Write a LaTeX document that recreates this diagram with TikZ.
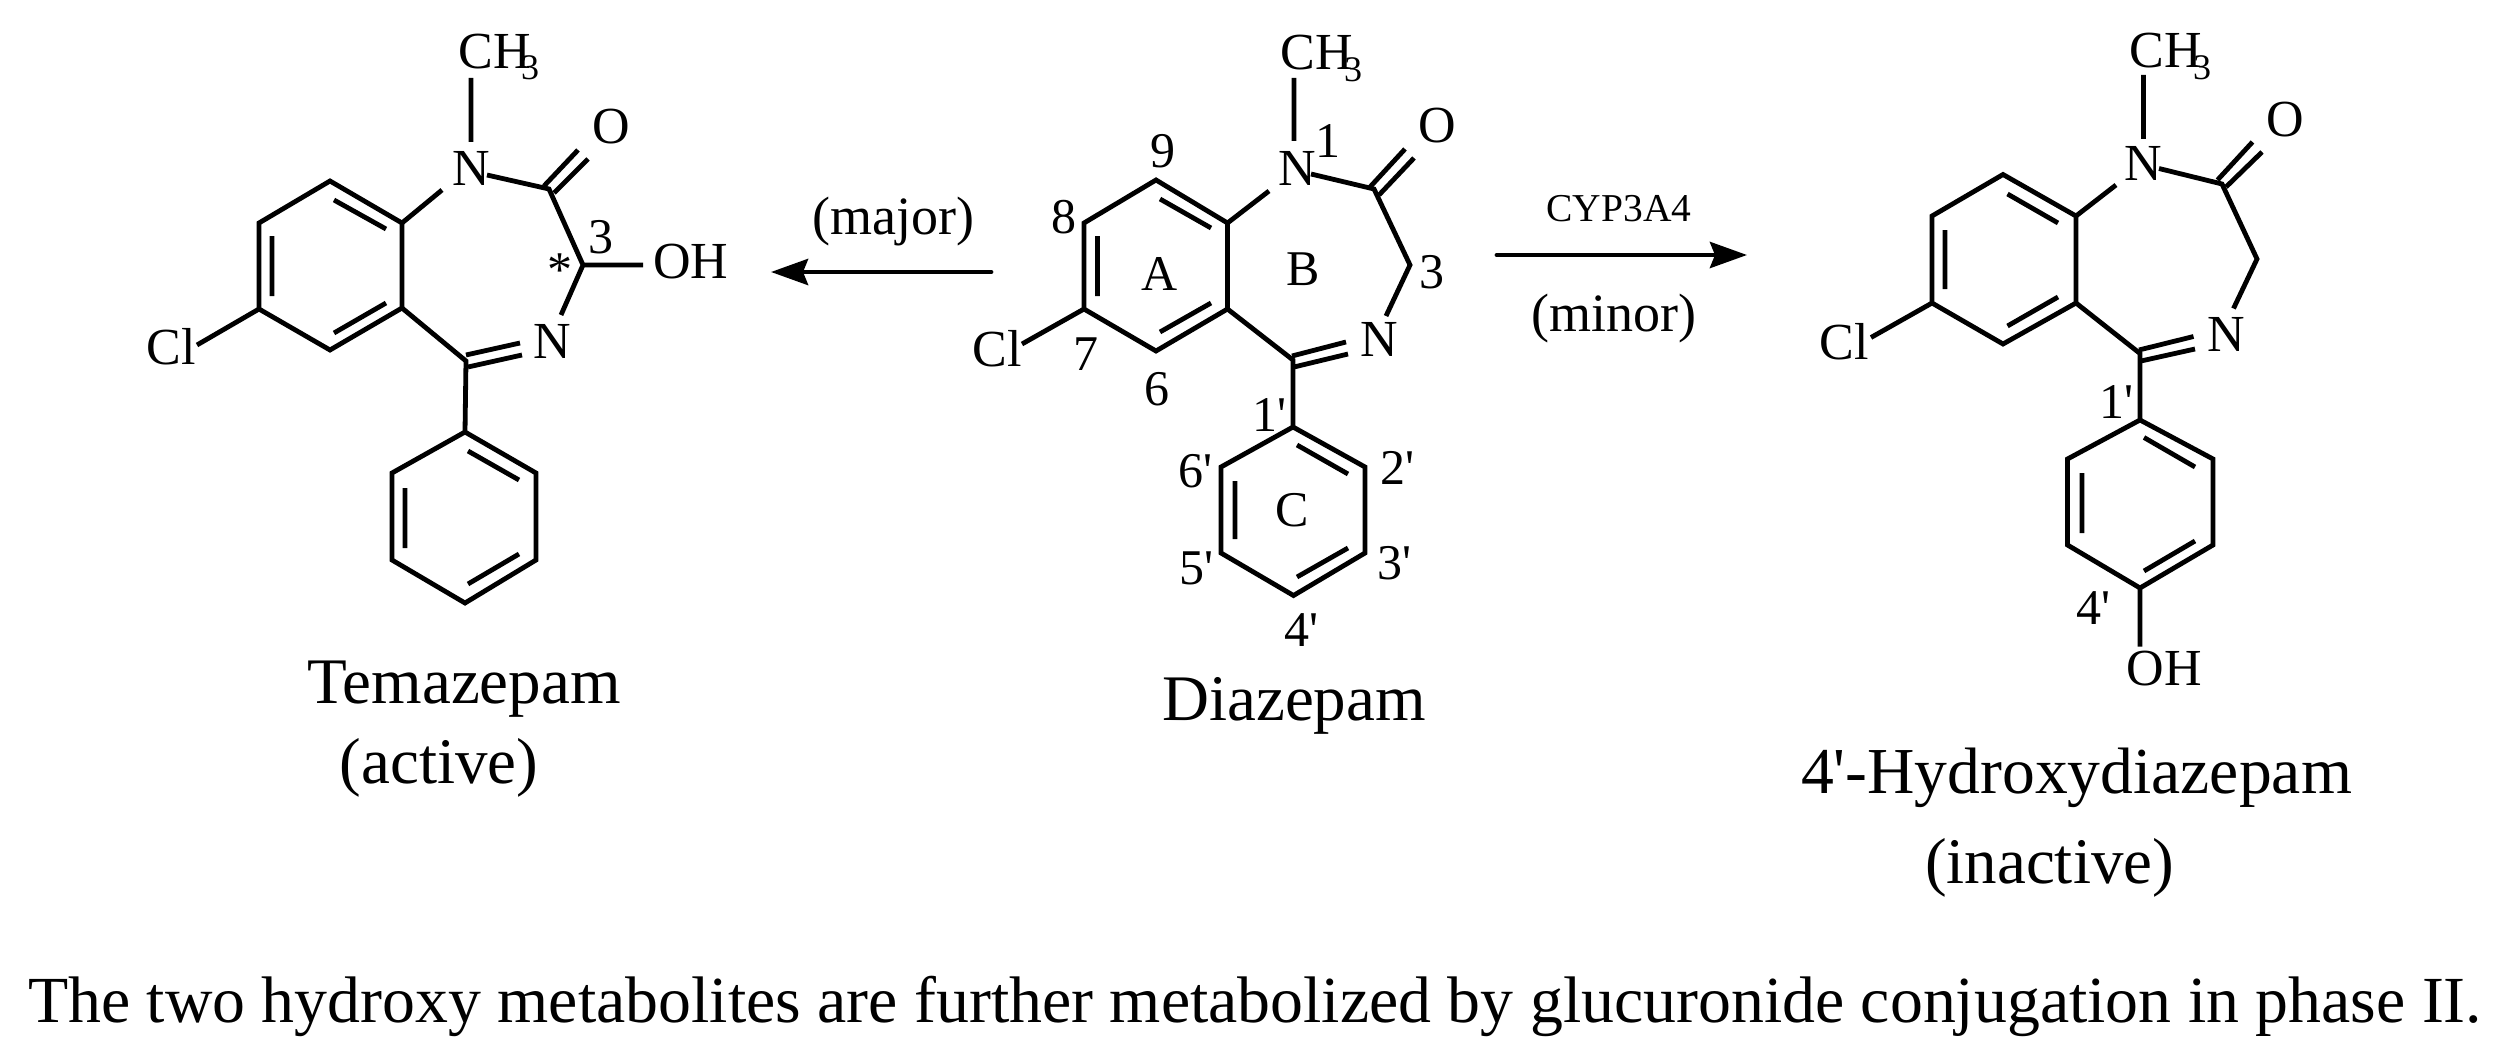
\documentclass[tikz,border=0pt]{standalone}
\usepackage{fontspec}
\setmainfont{Liberation Serif}[Ligatures=TeXOff]
\usetikzlibrary{arrows.meta}
\newcommand{\fs}[1]{\fontsize{#1}{#1}\selectfont}
\tikzset{
  bond/.style={line width=4.8pt,line join=miter},
  react/.style={line width=4.8pt,line cap=round,-{Stealth[length=37pt,width=26pt,inset=5pt]}},
  atomlbl/.style={inner sep=0pt,font=\fs{52}},
  sublbl/.style={inner sep=0pt,font=\fs{36}},
  poslbl/.style={inner sep=0pt,font=\fs{50}},
  namelbl/.style={inner sep=0pt,font=\fs{65}},
  hnamelbl/.style={inner sep=0pt,font=\fs{65.6}},
  caplbl/.style={inner sep=0pt,font=\fs{65.8}},
  condlbl/.style={inner sep=0pt,font=\fs{54}},
  smalllbl/.style={inner sep=0pt,font=\fs{39.5}},
}
\begin{document}
\begin{tikzpicture}[x=1pt,y=-1pt]
\useasboundingbox (0,0) rectangle (2493,1062);
% ---------- Temazepam ----------
\foreach \n/\x/\y in {a1/330/181,a2/402/223,a3/402/308,a4/330/350,a5/259/309,a6/259/223,
  aNa/442/190,aNb/487/175,c2/549/189,c3/583/265,cNa/561/315,c5/466/361,
  p1/465/432,p2/536/473,p3/536/560,p4/465/603,p5/392/560,p6/392/473,
  me1/471/78,me2/471/142,oh1/643/265,cl1/197/345,
  o1a/544/186,o1b/578/150,o2a/554/193,o2b/588/159,
  n1a/466/355,n1b/520/343,n2a/468/367,n2b/522/355,
  i1a/334/200,i1b/386/229,i2a/272/236,i2b/272/296,i3a/334/333,i3b/386/303,
  j1a/468/451,j1b/519/480,j2a/405/488,j2b/405/548,j3a/468/584,j3b/519/554}
  {\coordinate (t\n) at (\x,\y);}
\draw[bond] (ta1)--(ta2)--(ta3)--(ta4)--(ta5)--(ta6)--cycle;
\draw[bond] (ta2)--(taNa) (taNb)--(tc2)--(tc3)--(tcNa) (ta3)--(tc5)--(tp1);
\draw[bond] (tp1)--(tp2)--(tp3)--(tp4)--(tp5)--(tp6)--cycle;
\draw[bond] (tme1)--(tme2) (tc3)--(toh1) (ta5)--(tcl1);
\draw[bond] (to1a)--(to1b) (to2a)--(to2b) (tn1a)--(tn1b) (tn2a)--(tn2b);
\draw[bond] (ti1a)--(ti1b) (ti2a)--(ti2b) (ti3a)--(ti3b) (tj1a)--(tj1b) (tj2a)--(tj2b) (tj3a)--(tj3b);
\node[atomlbl] (tCH) at (495,52) {CH};
\node[sublbl] (tS) at (530,68) {3};
\node[atomlbl] (tN1) at (471,168) {N};
\node[atomlbl] (tO) at (611,127) {O};
\node[atomlbl] (tOH) at (691,262) {OH};
\node[atomlbl] (tN2) at (552,341) {N};
\node[atomlbl] (tCl) at (171,347) {Cl};
\node[poslbl] (t3) at (601,237) {3};
\node[poslbl] (tst) at (560,270) {*};
\node[namelbl] (tname) at (464,689) {Temazepam};
\node[namelbl] (tact) at (439,768) {(active)};
% ---------- Diazepam ----------
\foreach \n/\x/\y in {a1/1156/180,a2/1227.5/223,a3/1227.5/309,a4/1156/351,a5/1084/309,a6/1084/223,
  aNa/1269/191,aNb/1311/174,c2/1374/189,c3/1410/265,cNa/1386/316,c5/1293/360,
  p1/1293/427,p2/1365/467,p3/1365/553,p4/1293.5/595.5,p5/1221/553,p6/1221/467,
  me1/1294/78,me2/1294/141,cl1/1022/344,
  o1a/1370/187,o1b/1405/149,o2a/1379/195,o2b/1414/158,
  n1a/1292/356,n1b/1346/342,n2a/1294/367,n2b/1348/354,
  i1a/1160/199,i1b/1211/228,i2a/1097.5/236,i2b/1097.5/296,i3a/1160/332,i3b/1211/303,
  j1a/1297/445,j1b/1348/474,j2a/1235/481,j2b/1235/539,j3a/1297/577,j3b/1348/548}
  {\coordinate (d\n) at (\x,\y);}
\draw[bond] (da1)--(da2)--(da3)--(da4)--(da5)--(da6)--cycle;
\draw[bond] (da2)--(daNa) (daNb)--(dc2)--(dc3)--(dcNa) (da3)--(dc5)--(dp1);
\draw[bond] (dp1)--(dp2)--(dp3)--(dp4)--(dp5)--(dp6)--cycle;
\draw[bond] (dme1)--(dme2) (da5)--(dcl1);
\draw[bond] (do1a)--(do1b) (do2a)--(do2b) (dn1a)--(dn1b) (dn2a)--(dn2b);
\draw[bond] (di1a)--(di1b) (di2a)--(di2b) (di3a)--(di3b) (dj1a)--(dj1b) (dj2a)--(dj2b) (dj3a)--(dj3b);
\node[atomlbl] (dCH) at (1317,53) {CH};
\node[sublbl] (dS) at (1353,70) {3};
\node[atomlbl] (dN1) at (1297,168) {N};
\node[atomlbl] (dO) at (1437,126) {O};
\node[atomlbl] (dN2) at (1379,339) {N};
\node[atomlbl] (dCl) at (997,349) {Cl};
\node[poslbl] (d1) at (1327.5,141) {1};
\node[poslbl] (d9) at (1163,151) {9};
\node[poslbl] (d8) at (1064,217) {8};
\node[poslbl] (dA) at (1160,274) {A};
\node[poslbl] (dB) at (1303,269) {B};
\node[poslbl] (d3) at (1432,272) {3};
\node[poslbl] (d7) at (1086,354) {7};
\node[poslbl] (d6) at (1157,389) {6};
\node[poslbl] (d1p) at (1269,415) {1'};
\node[poslbl] (d6p) at (1195,471) {6'};
\node[poslbl] (d2p) at (1397,468) {2'};
\node[poslbl] (dC) at (1292.5,510) {C};
\node[poslbl] (d5p) at (1196,568) {5'};
\node[poslbl] (d3p) at (1394,563) {3'};
\node[poslbl] (d4p) at (1301,630) {4'};
\node[namelbl] (dname) at (1294,706) {Diazepam};
% ---------- 4'-Hydroxydiazepam ----------
\foreach \n/\x/\y in {a1/2003/174.5,a2/2076/216,a3/2076/303,a4/2003/344,a5/1932/303,a6/1932/216,
  aNa/2116/185,aNb/2159/168.5,c2/2222/184,c3/2257/259,cNa/2233.5/308.5,c5/2140/353.5,
  p1/2140/420,p2/2213/459,p3/2213/545,p4/2140/588,p5/2067.5/545,p6/2067.5/459,
  me1/2143.5/75,me2/2143.5/139,cl1/1871/337.5,oh1/2140/646.5,
  o1a/2217.5/180,o1b/2252.5/142,o2a/2226/187,o2b/2262/152,
  n1a/2139/350,n1b/2193.5/336.5,n2a/2141/361,n2b/2195/349,
  i1a/2007.5/194,i1b/2058/223,i2a/1945/230,i2b/1945/289,i3a/2007.5/326,i3b/2058/297,
  j1a/2144/437.5,j1b/2195/467,j2a/2082/473,j2b/2082/533,j3a/2144/571,j3b/2195/541}
  {\coordinate (h\n) at (\x,\y);}
\draw[bond] (ha1)--(ha2)--(ha3)--(ha4)--(ha5)--(ha6)--cycle;
\draw[bond] (ha2)--(haNa) (haNb)--(hc2)--(hc3)--(hcNa) (ha3)--(hc5)--(hp1);
\draw[bond] (hp1)--(hp2)--(hp3)--(hp4)--(hp5)--(hp6)--cycle;
\draw[bond] (hme1)--(hme2) (ha5)--(hcl1) (hp4)--(hoh1);
\draw[bond] (ho1a)--(ho1b) (ho2a)--(ho2b) (hn1a)--(hn1b) (hn2a)--(hn2b);
\draw[bond] (hi1a)--(hi1b) (hi2a)--(hi2b) (hi3a)--(hi3b) (hj1a)--(hj1b) (hj2a)--(hj2b) (hj3a)--(hj3b);
\node[atomlbl] (hCH) at (2166,50.5) {CH};
\node[sublbl] (hS) at (2202,67.5) {3};
\node[atomlbl] (hN1) at (2143,163) {N};
\node[atomlbl] (hO) at (2285,120) {O};
\node[atomlbl] (hN2) at (2226,334) {N};
\node[atomlbl] (hCl) at (1844,342) {Cl};
\node[atomlbl] (hOH) at (2164,669) {OH};
\node[poslbl] (h1p) at (2116,402) {1'};
\node[poslbl] (h4p) at (2093.5,608) {4'};
\node[hnamelbl] (hname) at (2076.5,778) {4'-Hydroxydiazepam};
\node[namelbl] (hina) at (2049.5,868) {(inactive)};
% ---------- Arrows ----------
\coordinate (lt) at (991,272); \coordinate (lh) at (771,272);
\coordinate (rt) at (1497,255); \coordinate (rh) at (1747,255);
\draw[react] (lt)--(lh);
\draw[react] (rt)--(rh);
\node[condlbl] (maj) at (893,222) {(major)};
\node[smalllbl] (cyp) at (1619,208.5) {CYP3A4};
\node[condlbl] (min) at (1613.5,319) {(minor)};
% ---------- Caption ----------
\node[caplbl] (cap) at (1255,1006) {The two hydroxy metabolites are further metabolized by glucuronide conjugation in phase II.};
\end{tikzpicture}
\end{document}
